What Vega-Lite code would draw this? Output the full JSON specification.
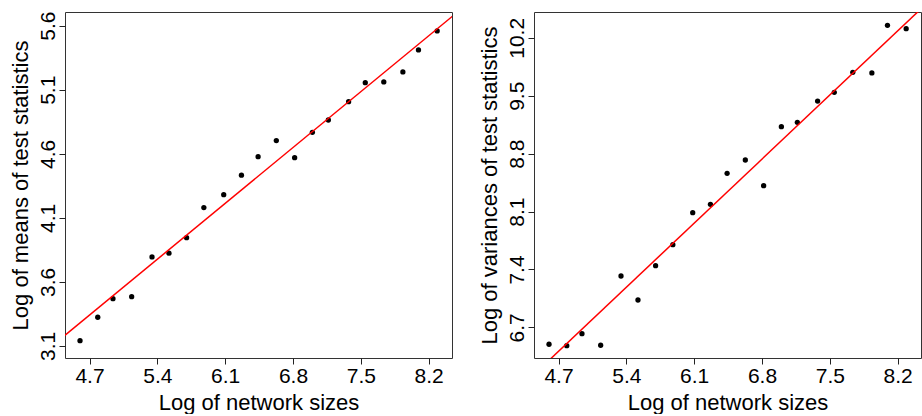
{
  "$schema": "https://vega.github.io/schema/vega-lite/v6.json",
  "padding": {"left": 8, "top": 10, "right": 2, "bottom": 0},
  "spacing": 24,
  "background": "white",
  "datasets": {
    "pts": [
      {"x": 4.602, "m": 3.141, "v": 6.496},
      {"x": 4.785, "m": 3.324, "v": 6.479},
      {"x": 4.942, "m": 3.469, "v": 6.624},
      {"x": 5.135, "m": 3.485, "v": 6.484},
      {"x": 5.345, "m": 3.795, "v": 7.321},
      {"x": 5.520, "m": 3.824, "v": 7.031},
      {"x": 5.702, "m": 3.945, "v": 7.446},
      {"x": 5.880, "m": 4.180, "v": 7.700},
      {"x": 6.085, "m": 4.281, "v": 8.086},
      {"x": 6.268, "m": 4.433, "v": 8.188},
      {"x": 6.440, "m": 4.578, "v": 8.562},
      {"x": 6.628, "m": 4.703, "v": 8.723},
      {"x": 6.817, "m": 4.570, "v": 8.413},
      {"x": 7.000, "m": 4.768, "v": 9.126},
      {"x": 7.165, "m": 4.864, "v": 9.179},
      {"x": 7.374, "m": 5.007, "v": 9.436},
      {"x": 7.546, "m": 5.155, "v": 9.541},
      {"x": 7.737, "m": 5.161, "v": 9.783},
      {"x": 7.934, "m": 5.239, "v": 9.775},
      {"x": 8.095, "m": 5.411, "v": 10.351},
      {"x": 8.288, "m": 5.559, "v": 10.310}
    ],
    "fit": [
      {"x": 4.3, "m": 3.092, "v": 5.968},
      {"x": 8.6, "m": 5.770, "v": 10.726}
    ]
  },
  "config": {
    "view": {"stroke": "#333", "strokeWidth": 1},
    "axis": {
      "grid": false,
      "domain": false,
      "tickColor": "#222",
      "tickSize": 6,
      "labelFont": "Liberation Sans",
      "labelFontSize": 21,
      "labelColor": "black",
      "titleFont": "Liberation Sans",
      "titleFontSize": 22,
      "titleFontWeight": "normal",
      "titleColor": "black"
    },
    "axisX": {"labelPadding": 1, "titlePadding": 6},
    "axisY": {"labelAngle": -90, "labelAlign": "center", "labelBaseline": "alphabetic", "labelPadding": 5, "titlePadding": 5}
  },
  "hconcat": [
    {
      "width": 387,
      "height": 346,
      "layer": [
        {
          "data": {"name": "pts"},
          "mark": {"type": "circle", "color": "black", "opacity": 1, "size": 28},
          "encoding": {
            "x": {"field": "x", "type": "quantitative", "scale": {"domain": [4.447, 8.441], "nice": false, "zero": false},
                  "axis": {"values": [4.7, 5.4, 6.1, 6.8, 7.5, 8.2], "format": ".1f", "title": "Log of network sizes"}},
            "y": {"field": "m", "type": "quantitative", "scale": {"domain": [3.006, 5.707], "nice": false, "zero": false},
                  "axis": {"values": [3.1, 3.6, 4.1, 4.6, 5.1, 5.6], "format": ".1f", "title": "Log of means of test statistics"}}
          }
        },
        {
          "data": {"name": "fit"},
          "mark": {"type": "line", "color": "#ff0000", "strokeWidth": 1.5, "clip": true},
          "encoding": {
            "x": {"field": "x", "type": "quantitative"},
            "y": {"field": "m", "type": "quantitative"}
          }
        }
      ]
    },
    {
      "width": 387,
      "height": 346,
      "layer": [
        {
          "data": {"name": "pts"},
          "mark": {"type": "circle", "color": "black", "opacity": 1, "size": 28},
          "encoding": {
            "x": {"field": "x", "type": "quantitative", "scale": {"domain": [4.447, 8.441], "nice": false, "zero": false},
                  "axis": {"values": [4.7, 5.4, 6.1, 6.8, 7.5, 8.2], "format": ".1f", "title": "Log of network sizes"}},
            "y": {"field": "v", "type": "quantitative", "scale": {"domain": [6.330, 10.512], "nice": false, "zero": false},
                  "axis": {"values": [6.7, 7.4, 8.1, 8.8, 9.5, 10.2], "format": ".1f", "title": "Log of variances of test statistics"}}
          }
        },
        {
          "data": {"name": "fit"},
          "mark": {"type": "line", "color": "#ff0000", "strokeWidth": 1.5, "clip": true},
          "encoding": {
            "x": {"field": "x", "type": "quantitative"},
            "y": {"field": "v", "type": "quantitative"}
          }
        }
      ]
    }
  ]
}
